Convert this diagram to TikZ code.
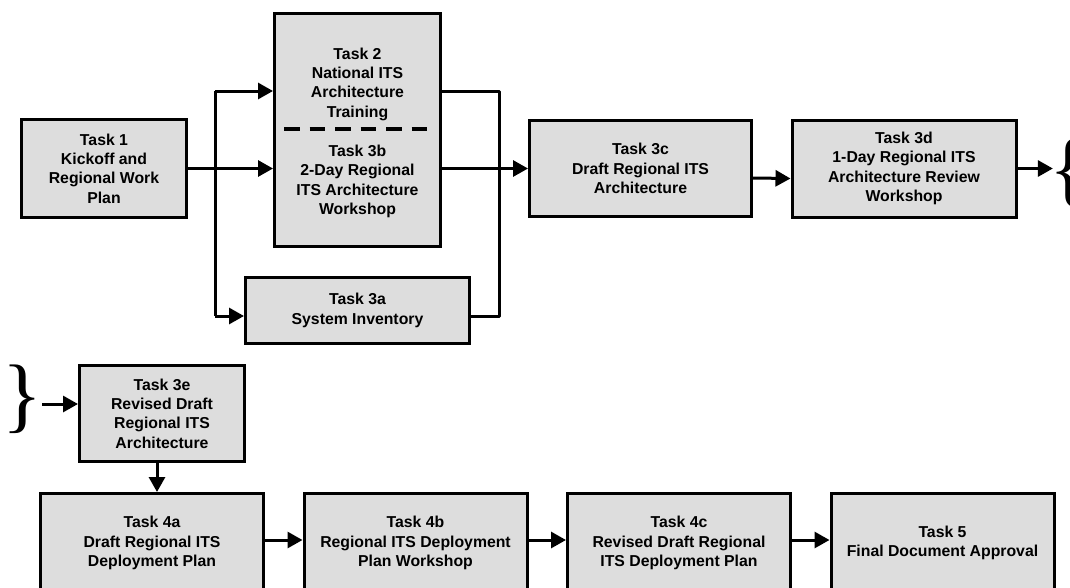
\documentclass[tikz,border=0pt]{standalone}
\usepackage{fontspec}
\setmainfont{Liberation Sans}
\newfontfamily\bracefont{Liberation Serif}
\usetikzlibrary{
positioning,%
arrows.meta
}
\definecolor{boxgray}{RGB}{221,221,221}
\tikzset{
    task/.style={draw, fill=boxgray, line width=3pt, align=center, inner sep=0pt,
        minimum width=223pt, minimum height=99pt,
        font=\fontsize{15.8}{19.3}\selectfont\bfseries},
    tasktext/.style={align=center, inner sep=0pt, font=\fontsize{15.8}{19.3}\selectfont\bfseries},
    divider/.style={line width=4pt, dash pattern=on 15.5pt off 10pt},
    wire/.style={line width=3pt, line join=round},
    flow/.style={-{Triangle[length=15pt,width=16pt]}, line width=3pt, line join=round},
    brace/.style={inner sep=0pt, font=\bracefont\fontsize{83}{83}\selectfont}
}

\begin{document}
\begin{tikzpicture}[x=1pt, y=-1pt, node distance=37.5pt]
            \clip (0,0) rectangle (1070,587);
            \node[task, minimum width=165pt, minimum height=98pt] (t1) at (104,168.5) {Task 1\\Kickoff and\\Regional Work\\Plan};
            \node[task, minimum width=166pt, minimum height=233pt] (t2b) at (357.5,130) {};
            \node[tasktext] (t2) at (357.5,84) {Task 2\\National ITS\\Architecture\\Training};
            \node[tasktext] (t3b) at (357.5,181.5) {Task 3b\\2-Day Regional\\ITS Architecture\\Workshop};
            \draw[divider] (284,129) -- (427,129);
            \node[task, minimum width=224pt, minimum height=66pt] (t3a) at (357.5,310.5) {Task 3a\\System Inventory};
            \node[task, minimum width=222pt, minimum height=96pt] (t3c) at (640.5,168.5) {Task 3c\\Draft Regional ITS\\Architecture};
            \node[task, minimum width=224pt, minimum height=97pt, right = of t3c] (t3d) {Task 3d\\1-Day Regional ITS\\Architecture Review\\Workshop};
            \node[brace] (brR) at (1069,173) {\{};
            \node[brace] (brL) at (22,399) {\}};
            \node[task, minimum width=165pt, minimum height=96pt] (t3e) at (162,413.5) {Task 3e\\Revised Draft\\Regional ITS\\Architecture};
            \node[task] (t4a) at (152,543) {Task 4a\\Draft Regional ITS\\Deployment Plan};
            \node[task, right = of t4a] (t4b) {Task 4b\\Regional ITS Deployment\\Plan Workshop};
            \node[task, right = of t4b] (t4c) {Task 4c\\Revised Draft Regional\\ITS Deployment Plan};
            \node[task, right = of t4c] (t5) {Task 5\\Final Document Approval};
            % fork and join round tasks 2, 3b and 3a
            \coordinate (up) at (215,91);
            \coordinate (dn) at (215,316);
            \coordinate (upR) at (499,91);
            \coordinate (dnR) at (499,316);
            \draw[flow] (t1.east) -- (t1.east -| t2b.west);
            \draw[wire] (up) -- (dn);
            \draw[flow] (up) -- (up -| t2b.west);
            \draw[flow] (dn) -- (dn -| t3a.west);
            \draw[wire] (upR -| t2b.east) -- (upR) -- (dnR) -- (dnR -| t3a.east);
            \draw[flow] (t3c.west -| t2b.east) -- (t3c.west);
            \draw[flow] ([yshift=-9.5pt]t3c.east) -- ([yshift=-10pt]t3d.west);
            \draw[flow, shorten >=-4pt] (t3d.east) -- (t3d.east -| brR.west);
            % second row
            \path ([yshift=9.5pt]t3e.west) coordinate (in3e);
            \path ([xshift=-5pt]t3e.south) coordinate (out3e);
            \draw[flow] (in3e -| brL.east) -- (in3e);
            \draw[flow] (out3e) -- (out3e |- t4a.north);
            \draw[flow] ([yshift=3pt]t4a.east) -- ([yshift=3pt]t4b.west);
            \draw[flow] ([yshift=3pt]t4b.east) -- ([yshift=3pt]t4c.west);
            \draw[flow] ([yshift=3pt]t4c.east) -- ([yshift=3pt]t5.west);
        \end{tikzpicture}
\end{document}
